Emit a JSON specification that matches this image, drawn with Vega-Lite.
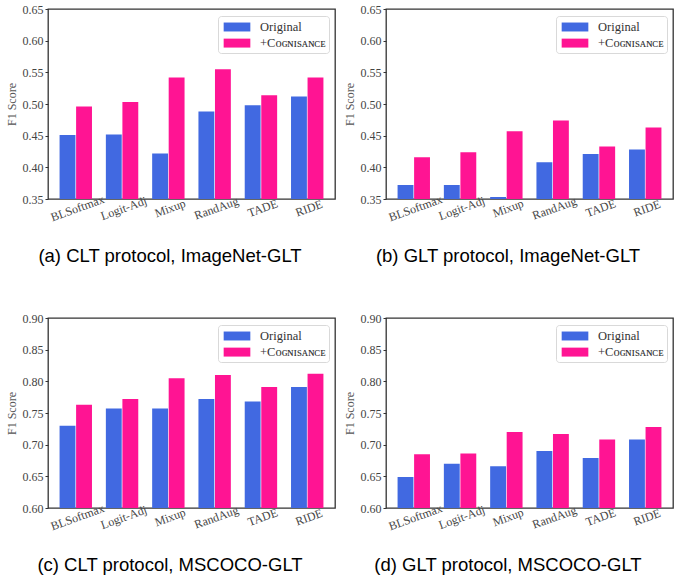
{
  "$schema": "https://vega.github.io/schema/vega-lite/v6.json",
  "padding": {"left": 4, "top": 2, "right": 4, "bottom": 4},
  "background": "white",
  "data": {"values": [
    {"panel": "a", "method": "BLSoftmax", "series": "Original", "value": 0.451},
    {"panel": "a", "method": "BLSoftmax", "series": "+Cognisance", "value": 0.496},
    {"panel": "a", "method": "Logit-Adj", "series": "Original", "value": 0.452},
    {"panel": "a", "method": "Logit-Adj", "series": "+Cognisance", "value": 0.503},
    {"panel": "a", "method": "Mixup", "series": "Original", "value": 0.422},
    {"panel": "a", "method": "Mixup", "series": "+Cognisance", "value": 0.542},
    {"panel": "a", "method": "RandAug", "series": "Original", "value": 0.488},
    {"panel": "a", "method": "RandAug", "series": "+Cognisance", "value": 0.555},
    {"panel": "a", "method": "TADE", "series": "Original", "value": 0.498},
    {"panel": "a", "method": "TADE", "series": "+Cognisance", "value": 0.514},
    {"panel": "a", "method": "RIDE", "series": "Original", "value": 0.512},
    {"panel": "a", "method": "RIDE", "series": "+Cognisance", "value": 0.542},
    {"panel": "b", "method": "BLSoftmax", "series": "Original", "value": 0.372},
    {"panel": "b", "method": "BLSoftmax", "series": "+Cognisance", "value": 0.416},
    {"panel": "b", "method": "Logit-Adj", "series": "Original", "value": 0.372},
    {"panel": "b", "method": "Logit-Adj", "series": "+Cognisance", "value": 0.424},
    {"panel": "b", "method": "Mixup", "series": "Original", "value": 0.353},
    {"panel": "b", "method": "Mixup", "series": "+Cognisance", "value": 0.457},
    {"panel": "b", "method": "RandAug", "series": "Original", "value": 0.408},
    {"panel": "b", "method": "RandAug", "series": "+Cognisance", "value": 0.474},
    {"panel": "b", "method": "TADE", "series": "Original", "value": 0.421},
    {"panel": "b", "method": "TADE", "series": "+Cognisance", "value": 0.433},
    {"panel": "b", "method": "RIDE", "series": "Original", "value": 0.428},
    {"panel": "b", "method": "RIDE", "series": "+Cognisance", "value": 0.463},
    {"panel": "c", "method": "BLSoftmax", "series": "Original", "value": 0.730},
    {"panel": "c", "method": "BLSoftmax", "series": "+Cognisance", "value": 0.763},
    {"panel": "c", "method": "Logit-Adj", "series": "Original", "value": 0.757},
    {"panel": "c", "method": "Logit-Adj", "series": "+Cognisance", "value": 0.772},
    {"panel": "c", "method": "Mixup", "series": "Original", "value": 0.757},
    {"panel": "c", "method": "Mixup", "series": "+Cognisance", "value": 0.805},
    {"panel": "c", "method": "RandAug", "series": "Original", "value": 0.772},
    {"panel": "c", "method": "RandAug", "series": "+Cognisance", "value": 0.810},
    {"panel": "c", "method": "TADE", "series": "Original", "value": 0.768},
    {"panel": "c", "method": "TADE", "series": "+Cognisance", "value": 0.791},
    {"panel": "c", "method": "RIDE", "series": "Original", "value": 0.791},
    {"panel": "c", "method": "RIDE", "series": "+Cognisance", "value": 0.812},
    {"panel": "d", "method": "BLSoftmax", "series": "Original", "value": 0.649},
    {"panel": "d", "method": "BLSoftmax", "series": "+Cognisance", "value": 0.685},
    {"panel": "d", "method": "Logit-Adj", "series": "Original", "value": 0.670},
    {"panel": "d", "method": "Logit-Adj", "series": "+Cognisance", "value": 0.686},
    {"panel": "d", "method": "Mixup", "series": "Original", "value": 0.666},
    {"panel": "d", "method": "Mixup", "series": "+Cognisance", "value": 0.720},
    {"panel": "d", "method": "RandAug", "series": "Original", "value": 0.690},
    {"panel": "d", "method": "RandAug", "series": "+Cognisance", "value": 0.717},
    {"panel": "d", "method": "TADE", "series": "Original", "value": 0.679},
    {"panel": "d", "method": "TADE", "series": "+Cognisance", "value": 0.708},
    {"panel": "d", "method": "RIDE", "series": "Original", "value": 0.708},
    {"panel": "d", "method": "RIDE", "series": "+Cognisance", "value": 0.728}
  ]},
  "columns": 2,
  "spacing": {"row": 44, "column": 6},
  "resolve": {"legend": {"color": "independent"}, "scale": {"y": "independent", "x": "independent"}},
  "concat": [
    {
      "width": 287, "height": 190,
      "title": {"text": "(a) CLT protocol, ImageNet-GLT"},
      "transform": [{"filter": "datum.panel == 'a'"}],
      "mark": {"type": "bar", "clip": true},
      "encoding": {
        "x": {"field": "method", "type": "nominal", "sort": ["BLSoftmax", "Logit-Adj", "Mixup", "RandAug", "TADE", "RIDE"], "scale": {"paddingInner": 0.3, "paddingOuter": 0.25}, "axis": {"title": null}},
        "xOffset": {"field": "series", "type": "nominal", "sort": ["Original", "+Cognisance"], "scale": {"paddingInner": 0.04}},
        "y": {"field": "value", "type": "quantitative", "scale": {"domain": [0.35, 0.65], "zero": false, "nice": false}, "axis": {"values": [0.35, 0.4, 0.45, 0.5, 0.55, 0.6, 0.65], "format": ".2f", "title": "F1 Score"}},
        "color": {"field": "series", "type": "nominal", "sort": ["Original", "+Cognisance"], "scale": {"domain": ["Original", "+Cognisance"], "range": ["#4169E1", "#FF1493"]}, "legend": {"labelExpr": "datum.label == '+Cognisance' ? '+Cᴏɢɴɪsᴀɴᴄᴇ' : datum.label"}}
      }
    },
    {
      "width": 287, "height": 190,
      "title": {"text": "(b) GLT protocol, ImageNet-GLT"},
      "transform": [{"filter": "datum.panel == 'b'"}],
      "mark": {"type": "bar", "clip": true},
      "encoding": {
        "x": {"field": "method", "type": "nominal", "sort": ["BLSoftmax", "Logit-Adj", "Mixup", "RandAug", "TADE", "RIDE"], "scale": {"paddingInner": 0.3, "paddingOuter": 0.25}, "axis": {"title": null}},
        "xOffset": {"field": "series", "type": "nominal", "sort": ["Original", "+Cognisance"], "scale": {"paddingInner": 0.04}},
        "y": {"field": "value", "type": "quantitative", "scale": {"domain": [0.35, 0.65], "zero": false, "nice": false}, "axis": {"values": [0.35, 0.4, 0.45, 0.5, 0.55, 0.6, 0.65], "format": ".2f", "title": "F1 Score"}},
        "color": {"field": "series", "type": "nominal", "sort": ["Original", "+Cognisance"], "scale": {"domain": ["Original", "+Cognisance"], "range": ["#4169E1", "#FF1493"]}, "legend": {"labelExpr": "datum.label == '+Cognisance' ? '+Cᴏɢɴɪsᴀɴᴄᴇ' : datum.label"}}
      }
    },
    {
      "width": 287, "height": 190,
      "title": {"text": "(c) CLT protocol, MSCOCO-GLT"},
      "transform": [{"filter": "datum.panel == 'c'"}],
      "mark": {"type": "bar", "clip": true},
      "encoding": {
        "x": {"field": "method", "type": "nominal", "sort": ["BLSoftmax", "Logit-Adj", "Mixup", "RandAug", "TADE", "RIDE"], "scale": {"paddingInner": 0.3, "paddingOuter": 0.25}, "axis": {"title": null}},
        "xOffset": {"field": "series", "type": "nominal", "sort": ["Original", "+Cognisance"], "scale": {"paddingInner": 0.04}},
        "y": {"field": "value", "type": "quantitative", "scale": {"domain": [0.6, 0.9], "zero": false, "nice": false}, "axis": {"values": [0.6, 0.65, 0.7, 0.75, 0.8, 0.85, 0.9], "format": ".2f", "title": "F1 Score"}},
        "color": {"field": "series", "type": "nominal", "sort": ["Original", "+Cognisance"], "scale": {"domain": ["Original", "+Cognisance"], "range": ["#4169E1", "#FF1493"]}, "legend": {"labelExpr": "datum.label == '+Cognisance' ? '+Cᴏɢɴɪsᴀɴᴄᴇ' : datum.label"}}
      }
    },
    {
      "width": 287, "height": 190,
      "title": {"text": "(d) GLT protocol, MSCOCO-GLT"},
      "transform": [{"filter": "datum.panel == 'd'"}],
      "mark": {"type": "bar", "clip": true},
      "encoding": {
        "x": {"field": "method", "type": "nominal", "sort": ["BLSoftmax", "Logit-Adj", "Mixup", "RandAug", "TADE", "RIDE"], "scale": {"paddingInner": 0.3, "paddingOuter": 0.25}, "axis": {"title": null}},
        "xOffset": {"field": "series", "type": "nominal", "sort": ["Original", "+Cognisance"], "scale": {"paddingInner": 0.04}},
        "y": {"field": "value", "type": "quantitative", "scale": {"domain": [0.6, 0.9], "zero": false, "nice": false}, "axis": {"values": [0.6, 0.65, 0.7, 0.75, 0.8, 0.85, 0.9], "format": ".2f", "title": "F1 Score"}},
        "color": {"field": "series", "type": "nominal", "sort": ["Original", "+Cognisance"], "scale": {"domain": ["Original", "+Cognisance"], "range": ["#4169E1", "#FF1493"]}, "legend": {"labelExpr": "datum.label == '+Cognisance' ? '+Cᴏɢɴɪsᴀɴᴄᴇ' : datum.label"}}
      }
    }
  ],
  "config": {
    "view": {"stroke": "#333", "strokeWidth": 1.3},
    "title": {"orient": "bottom", "anchor": "middle", "frame": "bounds", "font": "Liberation Sans", "fontSize": 18.5, "fontWeight": "normal", "color": "#000", "offset": 24},
    "axis": {"labelFont": "Liberation Serif", "labelFontSize": 12, "labelColor": "#444", "titleFont": "Liberation Serif", "titleFontSize": 12, "titleFontWeight": "normal", "titleColor": "#555", "domain": false, "grid": false, "tickColor": "#333", "tickSize": 3, "labelPadding": 2, "titlePadding": 4},
    "axisX": {"labelAngle": -20, "labelAlign": "center", "labelBaseline": "top", "ticks": false, "labelPadding": 4},
    "legend": {"orient": "top-right", "offset": 6.5, "title": null, "fillColor": "white", "strokeColor": "#d9d9d9", "cornerRadius": 3, "padding": 2.5, "symbolType": "M-1.58,-0.53H1.58V0.53H-1.58Z", "symbolSize": 285, "symbolStrokeWidth": 0, "symbolOffset": 8, "labelFont": "Liberation Serif, DejaVu Serif", "labelFontSize": 12.5, "labelColor": "#333", "labelOffset": 14.5, "rowPadding": 1.1}
  }
}
